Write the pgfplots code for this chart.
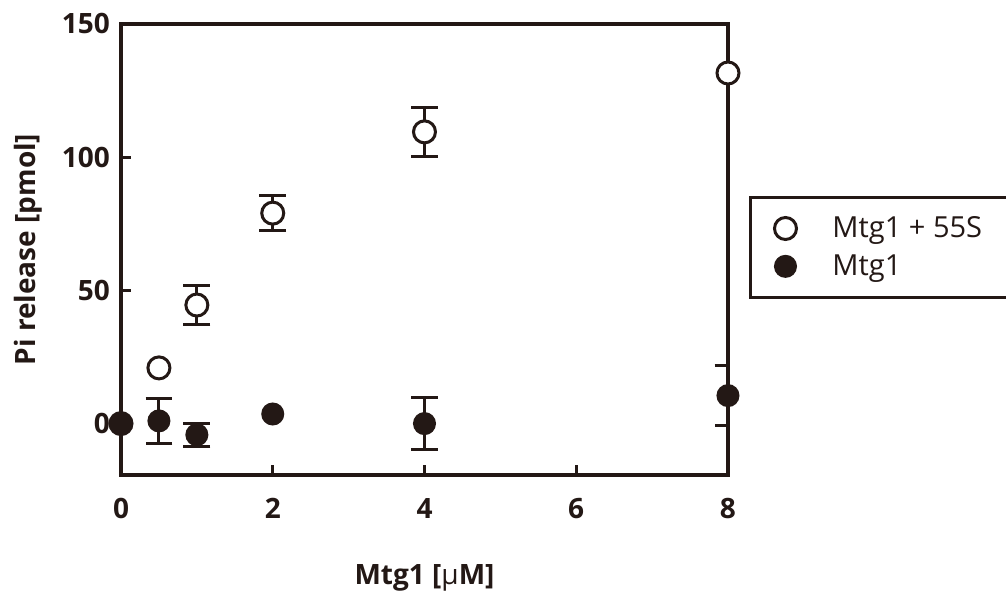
\documentclass[border=0pt]{standalone}
\usepackage{pgfplots}
\pgfplotsset{compat=1.18}
\usepackage{fontspec}
\setmainfont{Open Sans}
\definecolor{ink}{HTML}{231815}
\begin{document}
\begin{tikzpicture}
\begin{axis}[
  at={(0,0)}, anchor=south west,
  scale only axis, width=303.5pt, height=225.5pt,
  xmin=0, xmax=8, ymin=-19.3, ymax=150,
  axis line style={ink, line width=1.6pt},
  xtick={0,2,4,6,8}, ytick={0,50,100,150},
  tick align=inside, xtick pos=left, ytick pos=left,
  major tick length=5pt,
  tick style={ink, line width=1.6pt},
  /pgf/number format/assume math mode=true,
  ticklabel style={font=\fontsize{14}{16}\selectfont\bfseries, text=ink},
  xticklabel style={yshift=-8pt},
  yticklabel style={xshift=-2pt},
  xlabel={Mtg1 [\textmd{μ}M]}, ylabel={Pi release [pmol]},
  label style={font=\fontsize{14}{16}\selectfont\bfseries, text=ink},
  x label style={at={(axis description cs:0.5,-0.2284)}, anchor=center},
  y label style={at={(axis description cs:-0.1532,0.5)}, anchor=center},
  legend style={at={(axis description cs:1.0346,0.6186)}, anchor=north west,
    draw=ink, line width=1.5pt, font=\fontsize{14.5}{16.5}\selectfont, text=ink,
    row sep=3pt, column sep=16pt, inner ysep=7.5pt, inner xsep=12pt},
  legend cell align=left,
]
\addplot+[only marks, mark=*, ink, mark size=5.5pt, line width=1.5pt,
  mark options={fill=white, draw=ink},
  error bars/.cd, y dir=both, y explicit,
  error bar style={ink, line width=1.5pt},
  error mark options={rotate=90, mark size=6.7pt, line width=1.5pt, ink}]
  coordinates {
  (1,44.5) +- (0,7.3)
  (2,79) +- (0,6.6)
  (4,109.5) +- (0,9.2)
};
\addlegendentry{\makebox[130pt][l]{Mtg1 + 55S}}
\addplot+[only marks, mark=*, ink, mark size=5pt, line width=1.5pt,
  mark options={fill=ink, draw=ink},
  error bars/.cd, y dir=both, y explicit,
  error bar style={ink, line width=1.5pt},
  error mark options={rotate=90, mark size=6.7pt, line width=1.5pt, ink}]
  coordinates {
  (0.5,1) +- (0,8.6)
  (1,-4.2) +- (0,4.3)
  (4,0) +- (0,9.8)
  (8,10.5) +- (0,11.3)
};
\addlegendentry{Mtg1}
\addplot+[forget plot, only marks, mark=*, ink, mark size=5.5pt, line width=1.5pt,
  mark options={fill=white, draw=ink}]
  coordinates {
  (0,0)
  (0.5,20.9)
  (8,131.6)
};
\addplot+[forget plot, only marks, mark=*, ink, mark size=5pt, line width=1.5pt,
  mark options={fill=ink, draw=ink}]
  coordinates {
  (0,0)
  (2,3.6)
};
\end{axis}
\pgfresetboundingbox
\path[use as bounding box] (-60.5pt,-61pt) rectangle (442.5pt,237.5pt);
\end{tikzpicture}
\end{document}
